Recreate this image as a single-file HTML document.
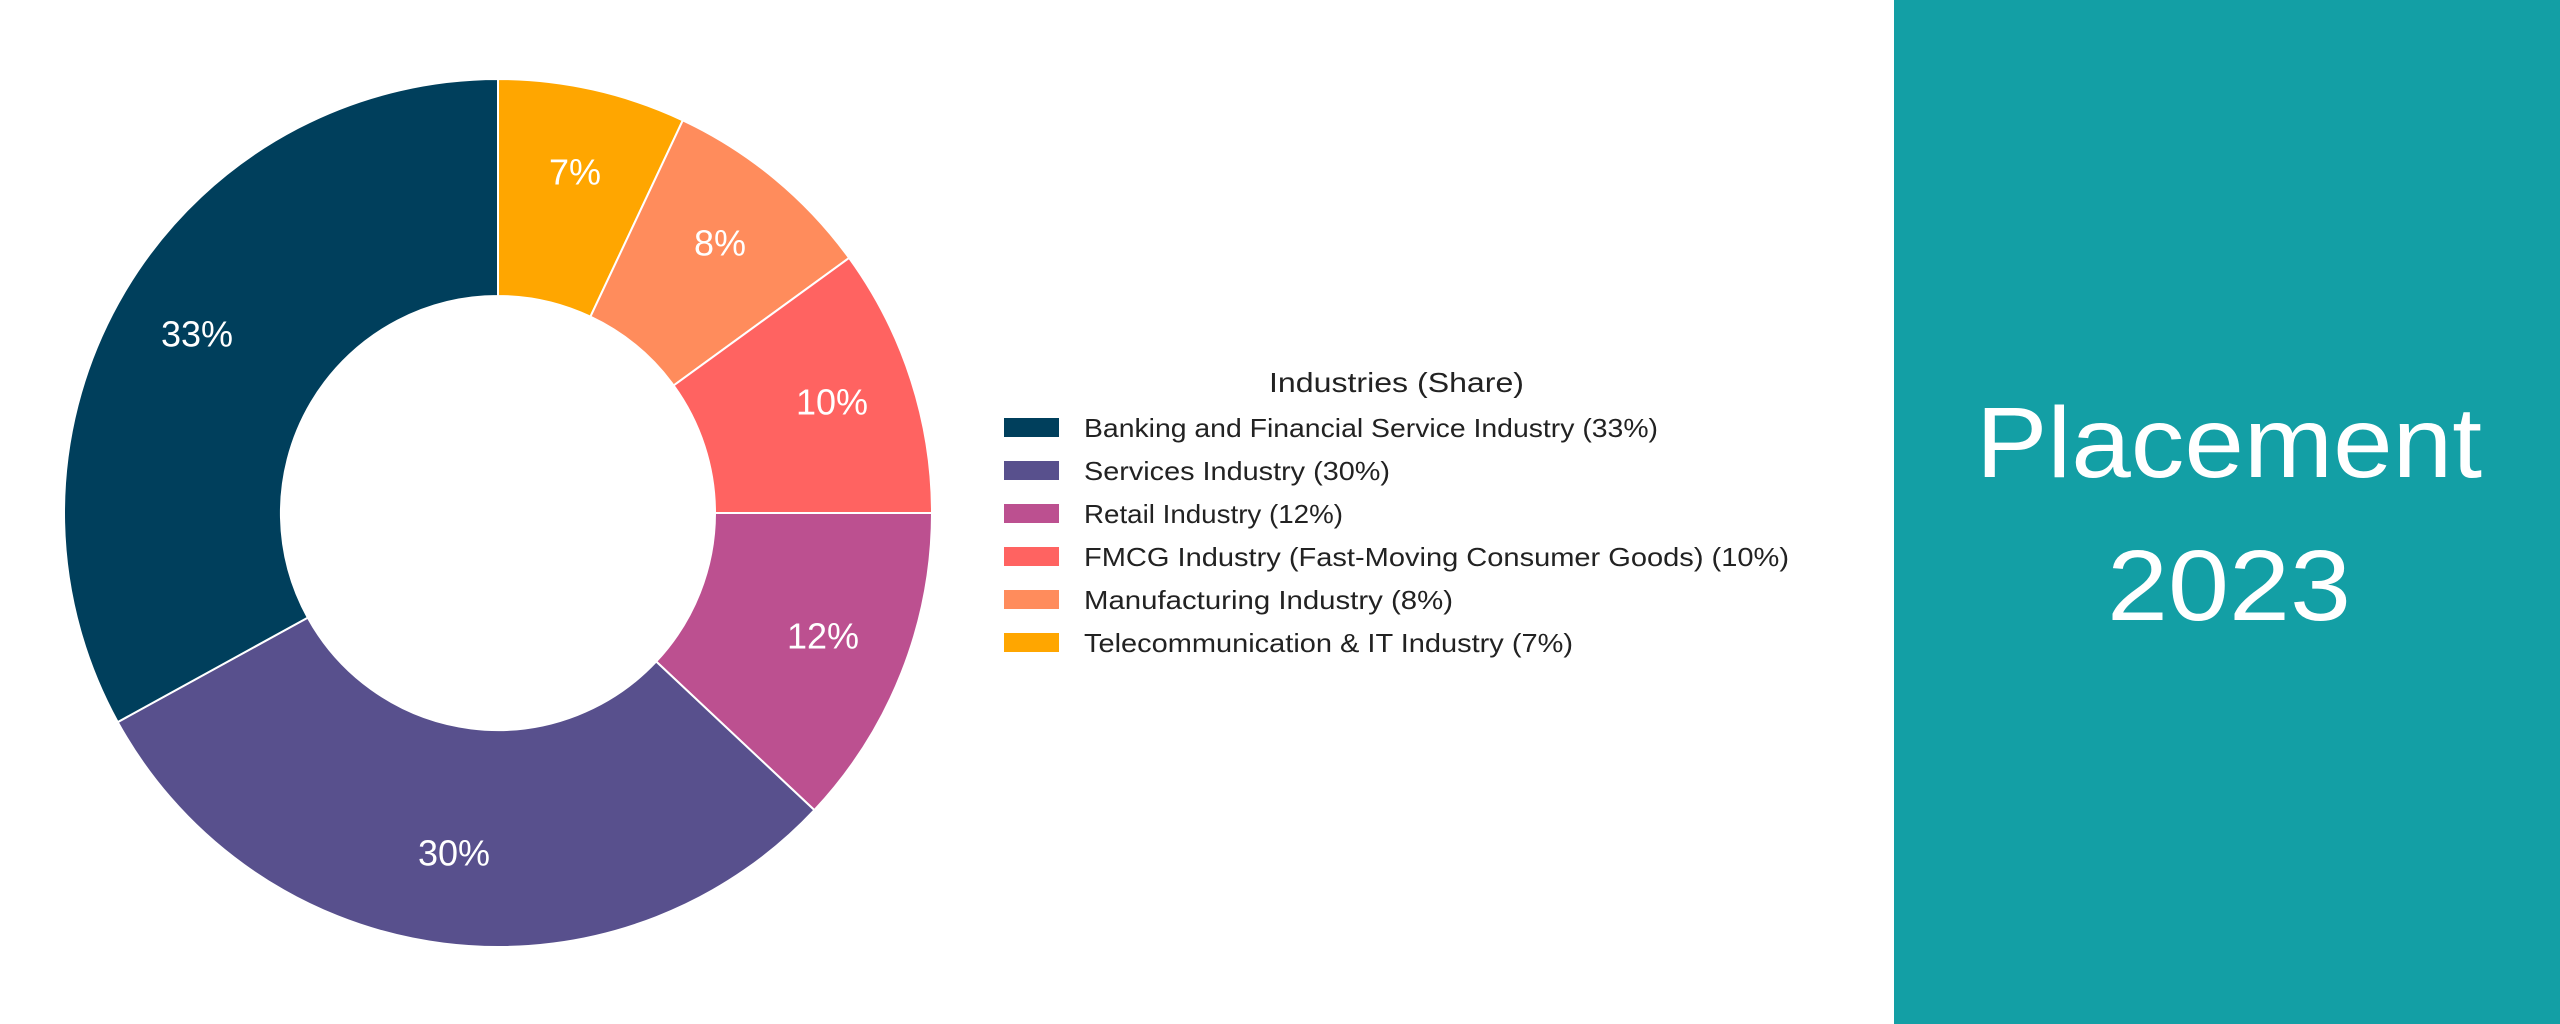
<!DOCTYPE html>
<html><head><meta charset="utf-8"><style>
html,body{margin:0;padding:0;background:#fff;}
svg{display:block;}
text{font-family:"Liberation Sans",sans-serif;}
</style></head><body>
<svg width="2560" height="1024" viewBox="0 0 2560 1024" xmlns="http://www.w3.org/2000/svg">
<rect width="2560" height="1024" fill="#fff"/>
<g transform="translate(498,513)">
<g stroke="#fff" stroke-width="2" stroke-linejoin="round">
<path d="M0,-434 A434,434 0 0 1 184.8,-392.7 L92.4,-196.3 A217,217 0 0 0 0,-217 Z" fill="#FFA600"/>
<path d="M184.8,-392.7 A434,434 0 0 1 351.1,-255.1 L175.6,-127.5 A217,217 0 0 0 92.4,-196.3 Z" fill="#FF8C5C"/>
<path d="M351.1,-255.1 A434,434 0 0 1 434,0 L217,0 A217,217 0 0 0 175.6,-127.5 Z" fill="#FF6361"/>
<path d="M434,0 A434,434 0 0 1 316.4,297.1 L158.2,148.5 A217,217 0 0 0 217,0 Z" fill="#BC5090"/>
<path d="M316.4,297.1 A434,434 0 0 1 -380.3,209.1 L-190.2,104.6 A217,217 0 0 0 158.2,148.5 Z" fill="#58508D"/>
<path d="M-380.3,209.1 A434,434 0 0 1 0,-434 L0,-217 A217,217 0 0 0 -190.2,104.6 Z" fill="#003F5C"/>
</g>
</g>
<g fill="#fff" font-size="36" text-anchor="middle" dominant-baseline="central">
<text x="575" y="172">7%</text>
<text x="720" y="243">8%</text>
<text x="832" y="402">10%</text>
<text x="823" y="636">12%</text>
<text x="454" y="853">30%</text>
<text x="197" y="334">33%</text>
</g>
<g fill="#222" font-size="26">
<text x="1269" y="392" font-size="28" textLength="255" lengthAdjust="spacingAndGlyphs">Industries (Share)</text>
<rect x="1004" y="418" width="55" height="19" fill="#003F5C"/>
<text x="1084" y="437" textLength="574" lengthAdjust="spacingAndGlyphs">Banking and Financial Service Industry (33%)</text>
<rect x="1004" y="461" width="55" height="19" fill="#58508D"/>
<text x="1084" y="480" textLength="306" lengthAdjust="spacingAndGlyphs">Services Industry (30%)</text>
<rect x="1004" y="504" width="55" height="19" fill="#BC5090"/>
<text x="1084" y="523" textLength="259" lengthAdjust="spacingAndGlyphs">Retail Industry (12%)</text>
<rect x="1004" y="547" width="55" height="19" fill="#FF6361"/>
<text x="1084" y="566" textLength="705" lengthAdjust="spacingAndGlyphs">FMCG Industry (Fast-Moving Consumer Goods) (10%)</text>
<rect x="1004" y="590" width="55" height="19" fill="#FF8C5C"/>
<text x="1084" y="609" textLength="369" lengthAdjust="spacingAndGlyphs">Manufacturing Industry (8%)</text>
<rect x="1004" y="633" width="55" height="19" fill="#FFA600"/>
<text x="1084" y="652" textLength="489" lengthAdjust="spacingAndGlyphs">Telecommunication &amp; IT Industry (7%)</text>
</g>
<rect x="1894" y="0" width="666" height="1024" fill="#139FA5"/>
<g fill="#fff" font-size="100">
<text x="1976" y="477" textLength="506" lengthAdjust="spacingAndGlyphs">Placement</text>
<text x="2107" y="620" textLength="244" lengthAdjust="spacingAndGlyphs">2023</text>
</g>
</svg>
</body></html>
